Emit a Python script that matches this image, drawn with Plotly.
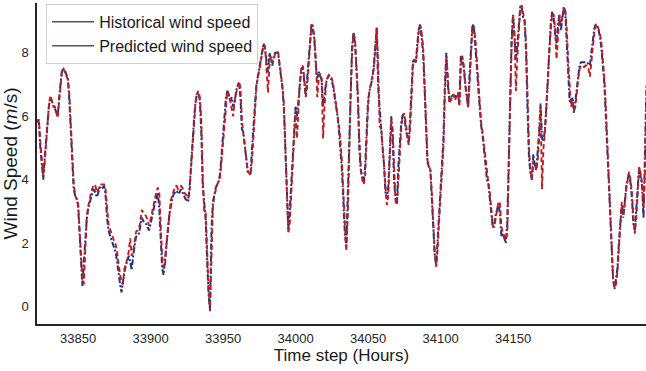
import plotly.graph_objects as go

hours = list(range(33822, 34243))

historical = [
    5.9, 5.8, 5.0, 4.4, 4.0, 4.7, 5.3, 5.9, 6.35, 6.6,
    6.45, 6.35, 6.25, 6.15, 6.0, 6.6, 7.1, 7.5, 7.45, 7.45,
    7.3, 7.2, 6.5, 5.7, 4.9, 3.7, 3.5, 3.4, 3.2, 2.2,
    1.4, 0.65, 1.4, 2.3, 2.75, 3.1, 3.3, 3.5, 3.6, 3.7,
    3.6, 3.45, 3.6, 3.75, 3.8, 3.75, 3.8, 3.5, 2.8, 2.4,
    2.25, 2.1, 2.0, 1.85, 1.7, 1.4, 1.0, 0.7, 0.45, 0.8,
    1.1, 1.3, 1.45, 1.6, 1.4, 1.15, 1.6, 1.9, 2.2, 2.25,
    2.3, 2.55, 2.8, 2.7, 2.65, 2.6, 2.5, 2.4, 2.6, 2.85,
    3.1, 3.25, 3.4, 3.6, 3.1, 2.1, 1.2, 1.0, 1.55, 1.95,
    2.45, 2.9, 3.2, 3.4, 3.55, 3.6, 3.65, 3.55, 3.6, 3.7,
    3.6, 3.45, 3.4, 3.35, 3.3, 3.8, 4.6, 5.2, 5.9, 6.45,
    6.7, 6.75, 6.5, 5.5, 3.8, 3.3, 2.75, 1.5, 0.4, -0.1,
    2.4, 3.3, 3.55, 3.75, 3.85, 3.95, 4.2, 4.8, 5.3, 6.1,
    6.6, 6.8, 6.6, 6.5, 6.6, 6.3, 6.4, 6.8, 6.95, 7.05,
    6.6, 5.6, 5.5, 5.0, 4.6, 4.25, 4.2, 4.2, 5.0, 5.7,
    6.6, 7.0, 7.25, 7.5, 7.85, 8.05, 8.3, 8.1, 7.8, 7.4,
    8.0, 7.8, 7.6, 7.9, 8.0, 8.0, 8.0, 7.6, 7.2, 6.9,
    6.2, 4.7, 3.4, 2.45, 3.0, 3.9, 4.9, 5.8, 6.3, 6.0,
    6.6, 7.2, 7.5, 7.55, 7.0, 6.65, 7.2, 7.7, 8.4, 8.9,
    8.7, 8.4, 7.6, 7.2, 7.4, 7.3, 7.15, 6.3, 6.8, 7.05,
    7.2, 7.3, 7.2, 7.15, 6.9, 6.6, 6.3, 6.0, 5.5, 5.0,
    4.3, 3.3, 2.3, 1.9, 3.4, 5.3, 7.0, 8.2, 8.65, 8.3,
    7.5, 6.5, 4.95, 4.3, 4.05, 3.95, 4.4, 5.6, 6.5, 6.8,
    7.0, 7.2, 7.6, 8.3, 8.8, 6.9, 6.2, 5.6, 5.0, 4.5,
    3.6, 3.4, 3.8, 4.9, 6.0, 5.3, 3.9, 3.4, 3.35, 4.5,
    5.3, 5.85, 6.05, 6.05, 5.6, 5.3, 5.15, 5.9, 6.7, 7.8,
    7.75, 7.7, 8.3, 8.75, 8.9, 8.5, 8.0, 6.9, 5.5, 4.55,
    4.4, 4.3, 3.4, 2.3, 1.6, 1.3, 2.1, 2.8, 3.5, 4.1,
    5.3, 7.0, 8.0, 7.0, 6.6, 6.5, 6.7, 6.65, 6.6, 6.7,
    6.7, 6.4, 7.9, 7.8, 7.55, 7.0, 6.6, 6.3, 7.3, 8.2,
    8.9, 8.8, 8.3, 7.6, 6.9, 6.1, 5.7, 5.4, 5.0, 4.4,
    4.0, 3.85, 3.4, 2.8, 2.5, 2.55, 2.9, 3.05, 3.25, 2.9,
    2.2, 2.3, 2.1, 2.0, 2.6, 4.3, 6.8, 8.4, 9.2, 8.4,
    7.8, 8.3, 9.0, 9.45, 9.45, 9.1, 9.0, 8.0, 6.2, 4.7,
    4.2, 4.0, 4.8, 4.45, 4.3, 4.8, 5.5, 6.4, 5.3, 5.2,
    5.6, 6.3, 7.3, 8.3, 8.9, 9.3, 9.1, 8.6, 8.3, 8.9,
    9.2, 8.7, 9.2, 9.45, 9.3, 8.5, 7.5, 6.5, 6.4, 6.6,
    6.1, 6.5, 7.0, 7.35, 7.65, 7.7, 7.7, 7.7, 7.7, 7.7,
    7.65, 7.6, 8.0, 8.5, 8.75, 8.9, 8.85, 8.7, 8.5, 8.1,
    7.6, 7.0, 6.0, 4.9, 3.9, 2.7, 1.4, 0.85, 0.55, 0.85,
    1.2, 2.0, 2.8, 3.2, 2.8, 3.4, 3.75, 4.0, 4.2, 3.9,
    3.4, 2.6, 2.4, 3.1, 3.9, 4.4, 4.1, 3.8, 2.8, 4.8,
    7.0,
]

predicted = [
    5.8, 5.9, 5.2, 4.5, 4.1, 4.5, 5.2, 5.9, 6.4, 6.65,
    6.5, 6.3, 6.3, 6.1, 5.95, 6.5, 7.0, 7.45, 7.5, 7.4,
    7.3, 7.15, 6.7, 5.8, 4.8, 3.9, 3.5, 3.4, 3.3, 2.5,
    1.5, 0.9, 0.7, 2.0, 2.8, 3.15, 3.45, 3.6, 3.75, 3.85,
    3.8, 3.6, 3.7, 3.8, 3.85, 3.85, 3.85, 3.7, 3.0, 2.6,
    2.45, 2.3, 2.15, 2.05, 1.95, 1.7, 1.3, 0.95, 0.75, 0.7,
    1.2, 1.35, 1.5, 1.75, 2.15, 1.6, 1.75, 2.05, 2.35, 2.4,
    2.45, 2.7, 3.05, 2.95, 2.9, 2.85, 2.7, 2.55, 2.75, 3.0,
    3.2, 3.4, 3.6, 3.75, 3.6, 2.6, 1.6, 1.2, 1.3, 1.95,
    2.5, 3.0, 3.35, 3.5, 3.7, 3.8, 3.8, 3.7, 3.75, 3.8,
    3.75, 3.6, 3.55, 3.5, 3.4, 3.7, 4.4, 5.1, 5.8, 6.4,
    6.7, 6.8, 6.6, 5.9, 4.1, 3.0, 3.0, 1.7, 0.6, -0.15,
    1.5, 3.1, 3.5, 3.7, 3.85, 3.95, 4.1, 4.6, 5.2, 5.9,
    6.5, 6.8, 6.7, 6.5, 6.3, 6.0, 6.5, 6.7, 6.9, 7.1,
    6.9, 5.9, 5.45, 5.1, 4.7, 4.3, 4.2, 4.15, 4.6, 5.5,
    6.3, 6.9, 7.2, 7.4, 7.7, 8.0, 8.25, 8.2, 7.6, 6.75,
    7.6, 7.9, 7.7, 7.8, 8.0, 8.05, 8.0, 7.7, 7.3, 6.9,
    6.4, 5.0, 3.6, 2.3, 2.6, 3.6, 4.7, 5.7, 6.2, 5.3,
    6.3, 7.1, 7.5, 7.6, 7.2, 6.6, 6.9, 7.5, 8.2, 8.9,
    8.85, 8.5, 7.8, 6.6, 7.2, 7.35, 7.2, 5.3, 6.3, 7.0,
    7.2, 7.3, 7.25, 7.2, 7.0, 6.7, 6.4, 6.1, 5.7, 5.2,
    4.6, 3.6, 2.5, 1.75, 2.8, 5.0, 6.7, 8.0, 8.6, 8.45,
    7.7, 6.7, 5.3, 4.4, 4.0, 3.85, 4.1, 5.3, 6.3, 6.8,
    7.0, 7.2, 7.5, 8.1, 8.8, 7.6, 5.65, 5.7, 5.1, 4.6,
    3.8, 3.2, 3.5, 4.6, 5.9, 5.6, 4.2, 3.3, 3.2, 4.0,
    5.1, 5.7, 6.0, 6.1, 5.8, 5.4, 5.1, 5.6, 6.5, 7.6,
    7.8, 7.7, 8.1, 8.7, 8.85, 8.6, 8.2, 7.2, 5.8, 4.6,
    4.45, 4.3, 3.6, 2.6, 1.7, 1.25, 1.8, 2.7, 3.4, 4.0,
    5.0, 6.7, 7.9, 7.3, 6.4, 6.5, 6.6, 6.7, 6.5, 6.6,
    6.75, 6.3, 7.6, 7.9, 7.6, 7.1, 6.6, 6.25, 7.0, 8.0,
    8.8, 8.85, 8.45, 7.8, 7.1, 6.3, 5.8, 5.5, 5.1, 4.6,
    4.1, 3.9, 3.6, 3.0, 2.55, 2.5, 2.8, 3.1, 3.3, 3.3,
    2.5, 2.35, 2.2, 2.1, 2.3, 3.9, 6.3, 8.2, 9.2, 8.6,
    6.8, 7.9, 8.9, 9.4, 9.5, 9.2, 9.0, 8.3, 6.6, 5.0,
    4.3, 4.0, 4.6, 4.5, 4.3, 4.6, 5.3, 6.3, 3.7, 5.0,
    5.5, 6.2, 7.1, 8.1, 8.8, 9.25, 9.2, 8.8, 7.8, 8.6,
    9.2, 8.9, 9.1, 9.4, 9.35, 8.8, 7.8, 6.8, 6.3, 6.5,
    6.2, 6.3, 6.8, 7.2, 7.5, 7.6, 7.6, 7.55, 7.6, 7.6,
    7.5, 7.25, 7.7, 8.3, 8.6, 8.85, 8.9, 8.75, 8.6, 8.3,
    7.8, 7.2, 6.3, 5.2, 4.1, 3.0, 1.7, 0.9, 0.6, 0.7,
    1.1, 1.8, 2.7, 3.3, 2.9, 3.2, 3.7, 4.0, 4.25, 4.0,
    3.6, 2.8, 2.3, 2.8, 3.7, 4.4, 4.2, 3.9, 3.1, 4.2,
    6.5,
]

x_ticks = [33850, 33900, 33950, 34000, 34050, 34100, 34150]
y_ticks = [0, 2, 4, 6, 8]

fig = go.Figure()
fig.add_trace(go.Scatter(
    x=hours, y=historical, mode="lines", name="Historical wind speed",
    line=dict(color="#22337f", width=2, dash="6px,2px,2px,2px"),
    showlegend=False,
))
fig.add_trace(go.Scatter(
    x=hours, y=predicted, mode="lines", name="Predicted wind speed",
    line=dict(color="#b81f24", width=1.9, dash="5px,3px"),
    showlegend=False,
))
# legend entries drawn with solid samples, as in the reference
fig.add_trace(go.Scatter(
    x=[None], y=[None], mode="lines", name="Historical wind speed",
    line=dict(color="#4c5170", width=1.5),
))
fig.add_trace(go.Scatter(
    x=[None], y=[None], mode="lines", name="Predicted wind speed",
    line=dict(color="#744848", width=1.5),
))

fig.update_layout(
    width=646, height=371,
    margin=dict(l=37, r=0, t=3, b=47),
    plot_bgcolor="white", paper_bgcolor="white",
    font=dict(family="Liberation Sans, Arial, sans-serif", color="#262626"),
    legend=dict(
        x=0.015, y=0.997, xanchor="left", yanchor="top",
        bgcolor="rgba(255,255,255,0.85)", bordercolor="#d0d0d0", borderwidth=1,
        font=dict(size=16, color="#1a1a1a"), itemwidth=42,
        tracegroupgap=2,
    ),
    showlegend=True,
)
fig.update_xaxes(
    range=[33821.7, 34241.7], tickvals=x_ticks, ticktext=[str(v) for v in x_ticks],
    showline=True, linecolor="#262626", linewidth=1.5, mirror=False,
    showgrid=False, zeroline=False, ticks="",
    tickfont=dict(size=13), ticklabelstandoff=2,
    title=dict(text="Time step (Hours)", font=dict(size=17, color="#1a1a1a"), standoff=0),
)
fig.update_yaxes(
    range=[-0.55, 9.57], tickvals=y_ticks, ticktext=[str(v) for v in y_ticks],
    showline=True, linecolor="#262626", linewidth=1.5, mirror=False,
    showgrid=False, zeroline=False, ticks="",
    tickfont=dict(size=13), ticklabelstandoff=4,
    title=dict(text="Wind Speed (<i>m</i>/s)", font=dict(size=19, color="#1a1a1a"), standoff=2),
)

fig.write_html("out.html")
